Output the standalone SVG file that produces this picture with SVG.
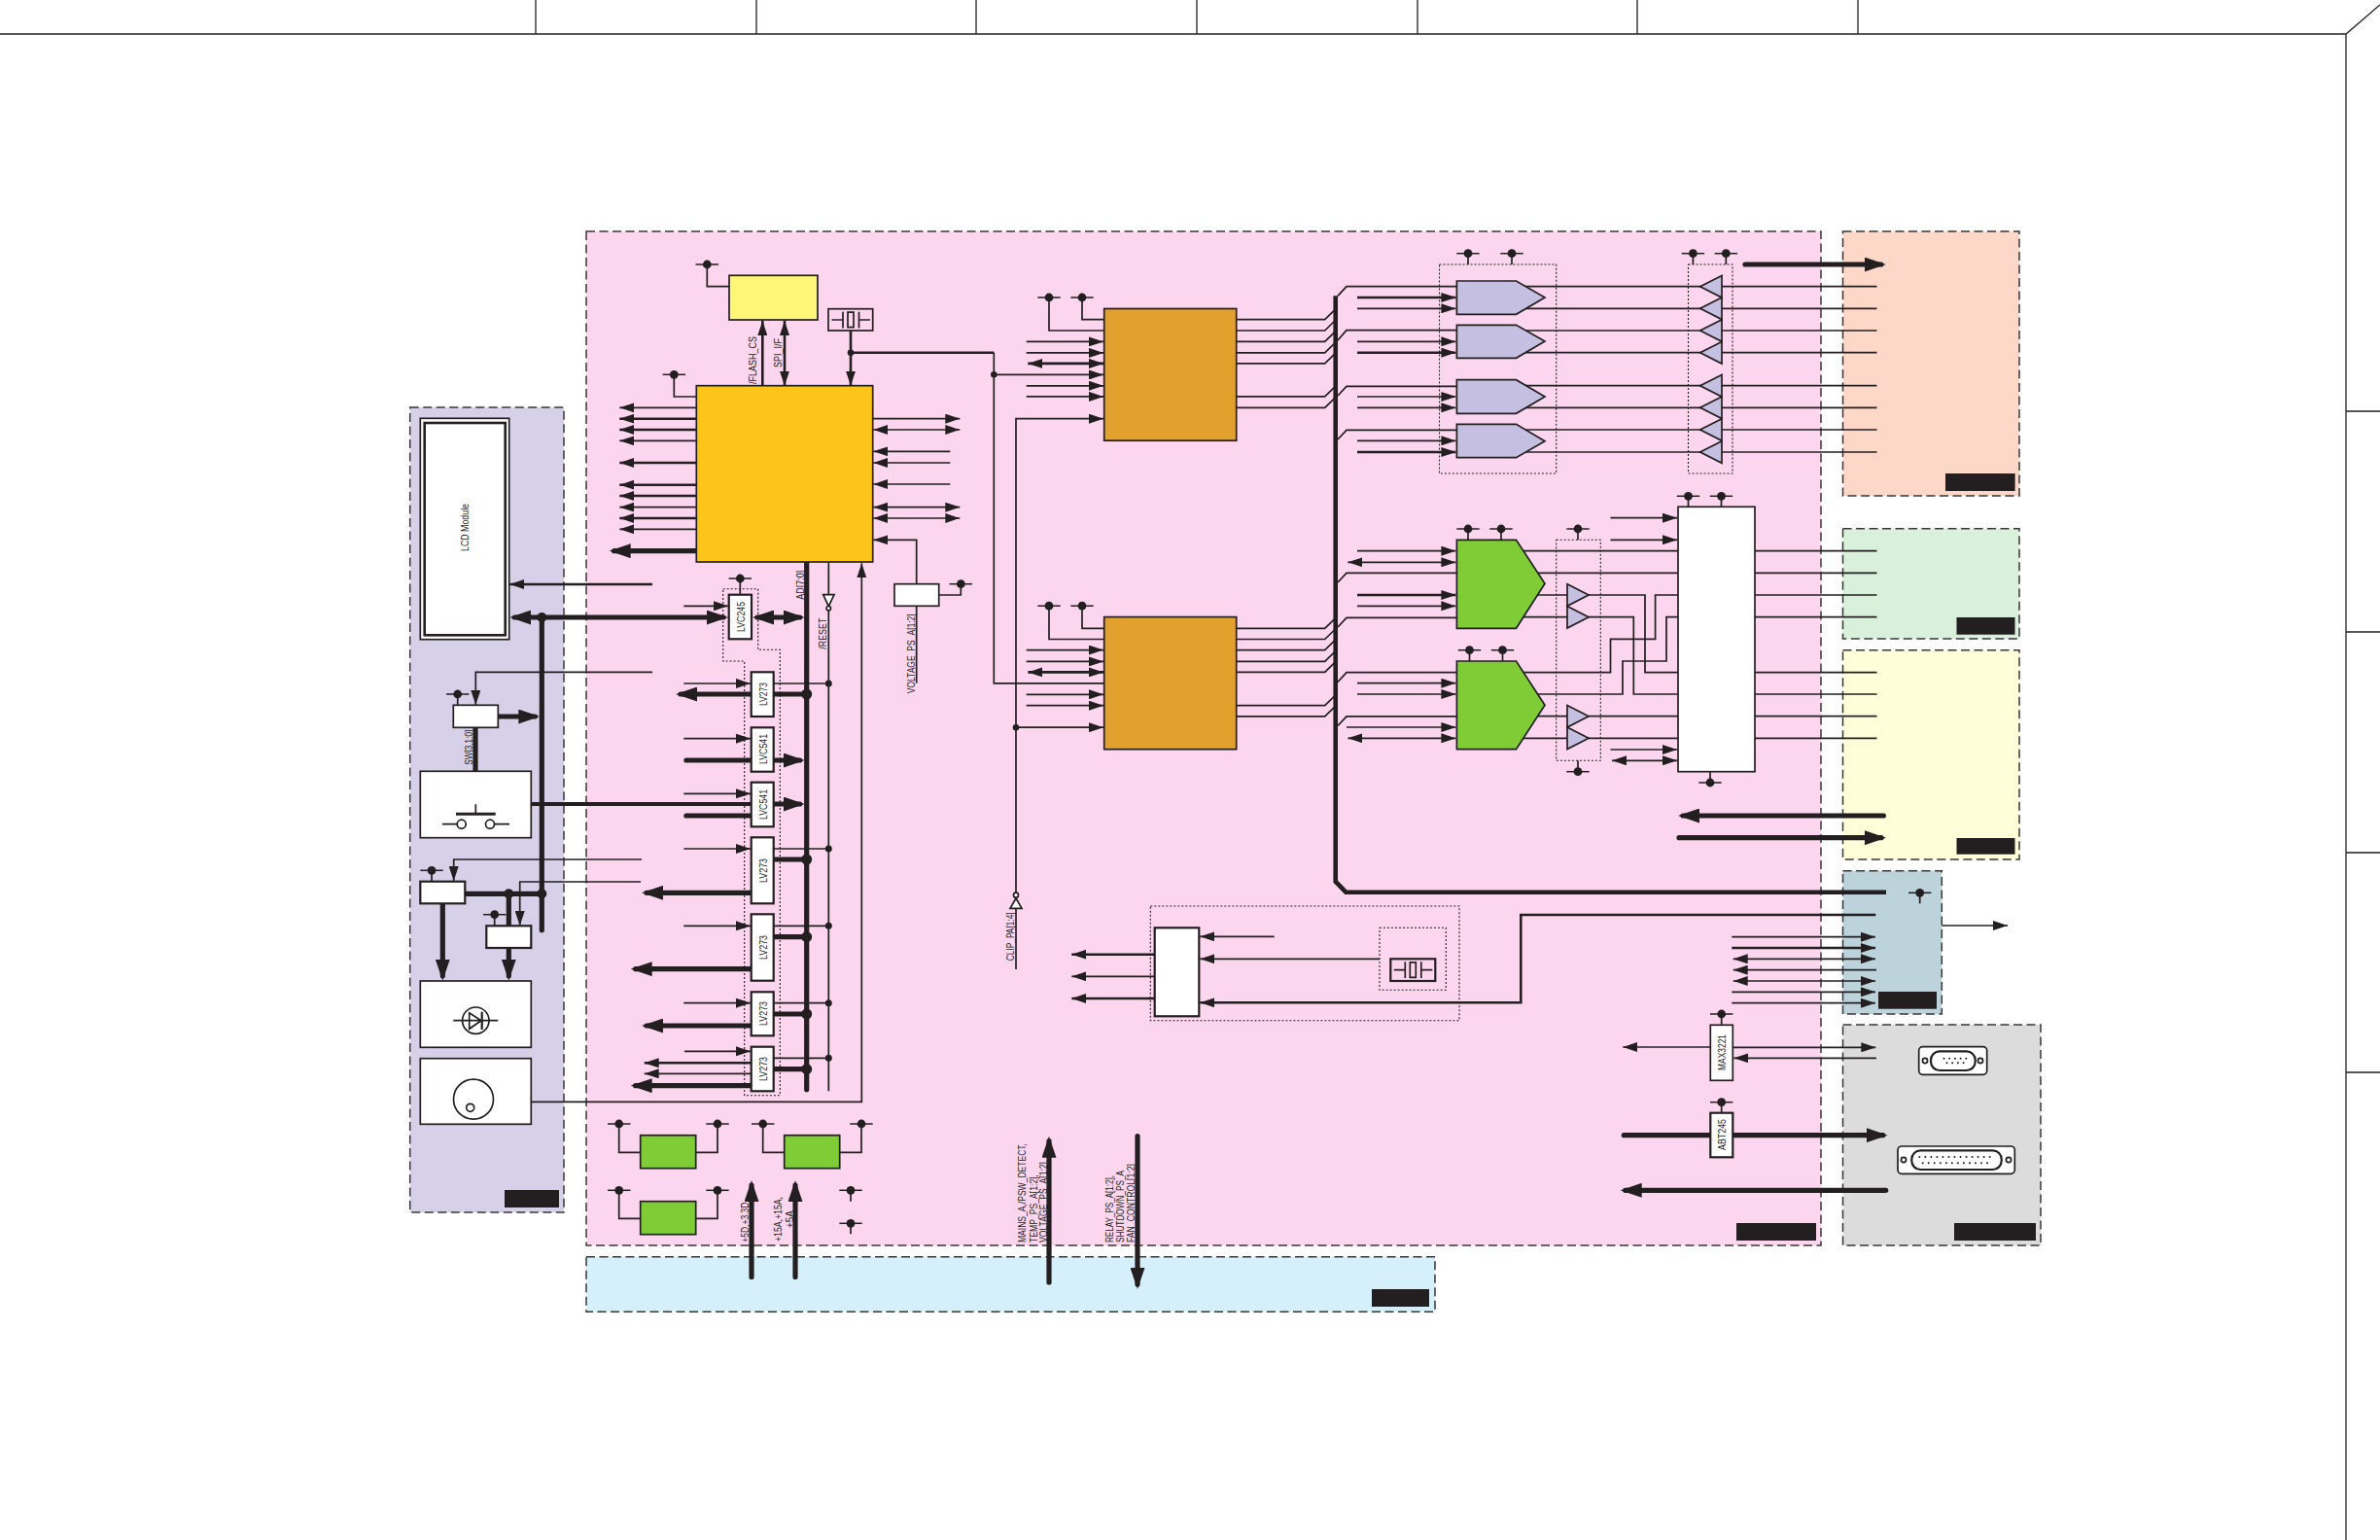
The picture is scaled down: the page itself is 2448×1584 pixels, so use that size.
<svg xmlns="http://www.w3.org/2000/svg" width="2448" height="1584" viewBox="0 0 2448 1584">
<style>
.pn{stroke:#3a3637;stroke-width:1.5;stroke-dasharray:9 4.5}
.tag{fill:#231f20}
.c path,.f{fill:none;stroke:#231f20;stroke-width:1.7}
.c path.t{stroke-width:5.2;stroke-linecap:round}
.c path.m{stroke-width:2.6}
.d{fill:none;stroke:#231f20;stroke-width:1.1;stroke-dasharray:2 2}
.n{stroke:#231f20;stroke-width:1.7}
.b{stroke:#231f20;stroke-width:2.2}
.wh{fill:#fff}
.or{fill:#e2a02d}
.gr{fill:#7fcc36}
.pu{fill:#c5bfe2}
.dot{fill:#231f20}
.l{font-family:"Liberation Sans",Arial,sans-serif;font-size:11px;fill:#231f20}
.ae{marker-end:url(#a)}
.as{marker-start:url(#a)}
.be{marker-end:url(#h)}
.bs{marker-start:url(#h)}
</style>
<defs>
<marker id="a" markerUnits="userSpaceOnUse" viewBox="0 0 15 10" refX="15" refY="5" markerWidth="15" markerHeight="10" orient="auto-start-reverse"><path d="M0 0L15 5L0 10Z" fill="#231f20"/></marker>
<marker id="h" markerUnits="userSpaceOnUse" viewBox="0 0 22 15" refX="17" refY="7.5" markerWidth="22" markerHeight="15" orient="auto-start-reverse"><path d="M0 0L22 7.5L0 15Z" fill="#231f20"/></marker>
<g id="p"><circle r="4.4" fill="#231f20"/><path d="M-11.7 0H11.7" fill="none" stroke="#231f20" stroke-width="1.5"/></g>
<g id="x"><path d="M0 11.3H11.5M11.5 3V19.7M16.5 3.5H22.5V19H16.5ZM28 3V19.7M28 11.3H39.5" fill="none" stroke="#231f20" stroke-width="1.7"/></g>
</defs>
<g id="sheet-frame" fill="none" stroke="#231f20" stroke-width="1.3">
<path d="M0 35H2413L2448 5M2413 35V1584M2413 423H2448M2413 650H2448M2413 877H2448M2413 1103H2448M551 0V35M778 0V35M1004 0V35M1231 0V35M1458 0V35M1684 0V35M1911 0V35"/>
</g>
<g id="panels">
<rect class="pn" x="603" y="238" width="1270" height="1043" fill="#fcd6ee"/>
<rect class="pn" x="421.7" y="419" width="158.3" height="828" fill="#d7d0e9"/>
<rect class="pn" x="603" y="1292.7" width="873" height="56.5" fill="#d6f0fb"/>
<rect class="pn" x="1895.5" y="238" width="181.5" height="272" fill="#fdd8c8"/>
<rect class="pn" x="1895.5" y="543.7" width="181.5" height="113.3" fill="#d9f0da"/>
<rect class="pn" x="1895.5" y="668.7" width="181.5" height="215.3" fill="#feffd8"/>
<rect class="pn" x="1895.5" y="895.7" width="101.8" height="147.3" fill="#bcd3dc"/>
<rect class="pn" x="1895.5" y="1054" width="203.5" height="227" fill="#dcdcdc"/>
<rect class="tag" x="2001" y="487" width="71.6" height="18"/>
<rect class="tag" x="2012.5" y="635" width="60" height="17.7"/>
<rect class="tag" x="2012.5" y="862" width="60" height="16.7"/>
<rect class="tag" x="1932" y="1020" width="60" height="17.7"/>
<rect class="tag" x="2010" y="1258" width="84" height="18"/>
<rect class="tag" x="1786" y="1258" width="82" height="18"/>
<rect class="tag" x="519" y="1224" width="56" height="18"/>
<rect class="tag" x="1411" y="1326" width="59" height="18"/>
</g>
<g id="dotted-outlines">
<path class="d" d="M743.7 605.7H779.7V668.3H802.3V1126.7H765.7V680H743.7Z"/>
<rect class="d" x="1480.5" y="272" width="120.2" height="215"/>
<rect class="d" x="1736.5" y="272" width="45.5" height="215"/>
<rect class="d" x="1600.7" y="555.3" width="45.6" height="227"/>
<rect class="d" x="1183.3" y="932" width="317.7" height="117.7"/>
<rect class="d" x="1419" y="954.3" width="68.3" height="64"/>
</g>
<g id="connectors" class="c">
<path class="ae" d="M716 419.3H637.3"/><path class="ae m" d="M716 430.7H637.3"/><path class="ae m" d="M716 442H637.3"/><path class="ae" d="M716 453.3H637.3"/>
<path class="ae m" d="M716 476H637.3"/><path class="ae m" d="M716 498.7H637.3"/><path class="ae m" d="M716 510H637.3"/><path class="ae" d="M716 521.7H637.3"/><path class="ae m" d="M716 533H637.3"/><path class="ae" d="M716 544.3H637.3"/>
<path class="t be" d="M716 566.7H631.7"/>
<path d="M727.3 272V294.7H750M693.3 385.3V408H716"/>
<path class="ae m" d="M784.3 396.7V330"/>
<path class="ae as m" d="M807 396.7V330"/>
<path class="m ae" d="M875 340V396.7"/>
<path class="m" d="M875 362.7H1022.3"/>
<path d="M1022.3 362.7V702.9H1135"/>
<path class="ae" d="M1022.3 385.4H1135"/>
<path class="ae" d="M897.7 430.7H987.3"/><path class="ae as" d="M898.3 442H987.3"/>
<path class="as" d="M898.3 464.3H977.3"/><path class="as" d="M898.3 476H977.3"/><path class="as" d="M898.3 498H977.3"/>
<path class="ae as" d="M898.3 521.7H987.3"/><path class="ae as" d="M898.3 533H987.3"/>
<path class="as" d="M898.3 555.3H942.7V600.7"/>
<path d="M942.7 623.3V702.7M965.7 612H988.3V600.7"/>
<path d="M1079 306V340H1135.7M1113 306V328.6H1135.7M1079 623.2V657.5H1135.7M1113 623.2V646.4H1135.7"/>
<path class="ae" d="M1055.7 351.4H1135"/><path class="ae" d="M1055.7 362.9H1135"/><path class="ae as m" d="M1057.3 373.9H1135"/><path class="ae" d="M1055.7 396.8H1135"/><path class="ae" d="M1055.7 407.9H1135"/>
<path class="ae" d="M1045 997V430.7H1135"/>
<path class="ae" d="M1055.7 668.6H1135"/><path class="ae" d="M1055.7 680.4H1135"/><path class="ae as m" d="M1057.3 691.4H1135"/><path class="ae" d="M1055.7 714.3H1135"/><path class="ae" d="M1055.7 725.7H1135"/>
<path class="ae" d="M1045 748.2H1135"/>
<path d="M1271.7 328.6H1362.7L1373 318.6M1271.7 340H1362.7L1373 330M1271.7 351.4H1362.7L1373 341.4M1271.7 362.9H1362.7L1373 352.9M1271.7 373.9H1362.7L1373 363.9M1271.7 407.9H1362.7L1373 397.9M1271.7 419.3H1362.7L1373 409.3"/>
<path d="M1271.7 646.4H1362.7L1373 636.4M1271.7 657.5H1362.7L1373 647.5M1271.7 668.6H1362.7L1373 658.6M1271.7 680.4H1362.7L1373 670.4M1271.7 691.4H1362.7L1373 681.4M1271.7 725.7H1362.7L1373 715.7M1271.7 736.8H1362.7L1373 726.8"/>
<path class="m" style="stroke-width:4.6" stroke-linejoin="miter" d="M1373.7 304.3V906.7L1384.3 917.7H1940"/>
<path d="M1376 304.3L1385 294.7H1498M1376 350L1385 339.7H1498M1376 407L1385 397.3H1498M1376 452L1385 442.3H1498M1376 599L1385 589.3H1498M1376 645L1385 635.4H1498M1376 701.5L1385 691.6H1498M1376 746.5L1385 736.8H1498"/>
<path class="ae m" d="M1396 306H1497.4"/><path class="ae" d="M1396 317.3H1497.4"/><path class="ae" d="M1396 351.3H1497.4"/><path class="ae m" d="M1396 362.7H1497.4"/><path class="ae" d="M1396 408H1497.4"/><path class="ae" d="M1396 419.3H1497.4"/><path class="ae" d="M1396 453.3H1497.4"/><path class="ae m" d="M1396 465H1497.4"/>
<path d="M1555 294.7H1930.5M1555 317.3H1930.5M1555 340H1930.5M1555 362.7H1930.5M1555 396.7H1930.5M1555 419.3H1930.5M1555 442H1930.5M1555 465H1930.5"/>
<path d="M1510 260.7V272M1555 260.7V272M1741.4 260.7V272M1775.3 260.7V272"/>
<path class="t be" d="M1795 272H1934.8"/>
<path class="ae" d="M1396 566.7H1497.4"/><path class="ae as" d="M1386.4 578.3H1497.4"/><path class="ae m" d="M1396 612H1497.4"/><path class="ae" d="M1396 623.3H1497.4"/>
<path class="ae" d="M1396 702.7H1497.4"/><path class="ae" d="M1396 714H1497.4"/><path class="ae" d="M1385 748H1497.4"/><path class="ae as" d="M1386.4 759.3H1497.4"/>
<path d="M1510 544V555.3M1544 544V555.3M1511.5 668.7V680M1545.5 668.7V680M1623 544V555.3M1623 782.3V793.7"/>
<path d="M1555 566.7H1726M1555 589.3H1726M1560 612H1612M1560 634.7H1612"/>
<path d="M1634 612H1692V691.7H1726M1634 634.7H1680.3V714H1726"/>
<path d="M1555 691.7H1656.5V657.3H1702.6V612H1726M1555 714H1669V680H1714V634.7H1726"/>
<path d="M1560 736.7H1612M1634 736.7H1726M1560 759.3H1612M1634 759.3H1726"/>
<path d="M1736.5 510.3V521.3M1770.5 510.3V521.3M1759 793.7V805"/>
<path class="ae" d="M1656.5 532.7H1725"/><path class="ae" d="M1656.5 555.3H1725"/><path class="ae" d="M1656.5 771H1725"/><path class="ae as" d="M1658 782.3H1725"/>
<path d="M1805 566.7H1930.5M1805 589.3H1930.5M1805 612H1930.5M1805 634.7H1930.5M1805 691.7H1930.5M1805 714H1930.5M1805 736.7H1930.5M1805 759.3H1930.5"/>
<path class="t be" d="M1937.4 839H1731"/>
<path class="t be" d="M1727 861.7H1935"/>
<path d="M1974.7 918.3V929.3"/>
<path class="m ae" d="M1929.3 941H1564.3V1031.3H1234.3"/>
<path class="ae" d="M1781.3 963.7H1929"/><path class="ae m" d="M1781.3 975H1929"/><path class="ae as" d="M1782.7 986.3H1929"/><path class="as" d="M1782.7 997.7H1930"/><path class="ae as" d="M1782.7 1009H1929"/><path class="ae" d="M1781.3 1020.3H1929"/><path class="ae" d="M1781.3 1031.7H1929"/>
<path class="ae" d="M1997.3 952H2065"/>
<path d="M1770.7 1043V1054.3M1770.7 1133.7V1144.7"/>
<path class="ae" d="M1759.3 1077H1669.3"/><path class="ae" d="M1782.3 1077.3H1929.3"/><path class="ae" d="M1930 1088.3H1783.3"/>
<path class="t" d="M1670.3 1167.7H1759.3"/><path class="t be" d="M1782.3 1167.7H1936.7"/>
<path class="t be" d="M1939.7 1224.3H1671.7"/>
<path class="ae m" d="M1187.7 981.7H1102.3"/><path class="ae" d="M1187.7 1004.3H1102.3"/><path class="ae m" d="M1187.7 1027H1102.3"/>
<path class="ae" d="M1310.7 963.3H1234.3"/><path class="ae" d="M1419 986.3H1234.3"/>
<path class="t be" d="M1079 1319V1173.7"/><path class="t be" d="M1170 1168.6V1321"/>
<path class="t be" d="M773 1313.4V1219"/><path class="t be" d="M818 1313.4V1219"/>
<path d="M636.7 1156V1185.3H658.7M738 1156V1185.3H715.7M636.7 1224.3V1253.3H658.7M738 1224.3V1253.3H715.7M784.7 1156V1185.3H806.7M886 1156V1185.3H863.7M875 1224.3V1235.7M875 1258.3V1269.3"/>
<path class="ae m" d="M671 601H524.3"/>
<path class="t be bs" d="M529.3 635H744"/>
<path class="t" d="M557.3 635V956.7"/>
<path class="ae" d="M671 691.3H489.3V725"/>
<path d="M470.7 714V725.3M444 895.3V906.7M508.7 940.7V952.3"/>
<path class="t be" d="M512.3 737H550.3"/>
<path class="t" d="M489 748.3V793.3"/>
<path class="ae" d="M660 884H466.7V906"/>
<path class="ae" d="M659 907H534.7V952"/>
<path class="t" d="M478.3 919.3H557.3M523.3 919.3V952.3"/>
<path class="t be" d="M455.3 929.3V1003.7"/><path class="t be" d="M523.3 975V1003.7"/>
<path class="ae" d="M546.7 1133.3H886.3V579.3"/>
<path class="t" d="M829.7 576.7V1120.7"/>
<path d="M852.3 578V611.7M852.3 628V1122.3"/>
<path class="t be bs" d="M779 635H822.7"/>
<path class="ae" d="M703.3 623.3H749"/>
<path d="M761.3 595V611.7"/>
<path class="ae" d="M703.3 703H772"/><path d="M795.7 703H852.3"/><path class="t" d="M795.7 714H829.7"/><path class="t be" d="M772.7 714H700"/>
<path class="ae" d="M703.3 759.7H772"/><path class="t" d="M705.9 782H772.7"/><path class="t be" d="M795.7 782H822.7"/>
<path class="ae" d="M703.3 816.3H772"/><path class="t" style="stroke-width:4" d="M546.7 827H772.7"/><path class="t be" d="M795.7 827H822.7"/><path class="t" d="M705.9 839H772.7"/>
<path class="ae" d="M703.3 873H772"/><path d="M795.7 873H852.3"/><path class="t" d="M795.7 884H829.7"/><path class="t be" d="M772.7 918.3H665"/>
<path class="ae" d="M703.3 952.3H772"/><path d="M795.7 952.3H852.3"/><path class="t" d="M795.7 963.7H829.7"/><path class="t be" d="M772.7 996.7H653.7"/>
<path class="ae" d="M703.3 1031.7H772"/><path d="M795.7 1031.7H852.3"/><path class="t" d="M795.7 1043H829.7"/><path class="t be" d="M772.7 1055H665"/>
<path class="ae" d="M704 1081.3H772"/><path d="M795.7 1088.3H852.3"/><path class="t" d="M795.7 1099.7H829.7"/><path class="ae m" d="M772.7 1093.3H662.7"/><path class="ae" d="M772.7 1104.3H662.7"/><path class="t be" d="M772.7 1116.7H653.7"/>
</g>
<g id="junctions" class="dot">
<circle cx="875" cy="362.7" r="3.3"/><circle cx="1022.3" cy="385.3" r="3.3"/><circle cx="1045" cy="748.2" r="3.3"/>
<circle cx="557.3" cy="635" r="5"/><circle cx="523.3" cy="919.3" r="5"/><circle cx="557.3" cy="919.3" r="5"/>
<circle cx="829.7" cy="714" r="5.5"/><circle cx="829.7" cy="884" r="5.5"/><circle cx="829.7" cy="963.7" r="5.5"/><circle cx="829.7" cy="1043" r="5.5"/><circle cx="829.7" cy="1099.7" r="5.5"/>
<circle cx="852.3" cy="703" r="3.5"/><circle cx="852.3" cy="873" r="3.5"/><circle cx="852.3" cy="952.3" r="3.5"/><circle cx="852.3" cy="1031.7" r="3.5"/><circle cx="852.3" cy="1088.3" r="3.5"/>
</g>
<g id="power-pins">
<use href="#p" x="727.3" y="272"/><use href="#p" x="693.3" y="385.3"/><use href="#p" x="1079" y="306"/><use href="#p" x="1113" y="306"/><use href="#p" x="1079" y="623.2"/><use href="#p" x="1113" y="623.2"/>
<use href="#p" x="1510" y="260.7"/><use href="#p" x="1555" y="260.7"/><use href="#p" x="1741.4" y="260.7"/><use href="#p" x="1775.3" y="260.7"/>
<use href="#p" x="1510" y="544"/><use href="#p" x="1544" y="544"/><use href="#p" x="1511.5" y="668.7"/><use href="#p" x="1545.5" y="668.7"/><use href="#p" x="1623" y="544"/><use href="#p" x="1623" y="793.7"/>
<use href="#p" x="1736.5" y="510.3"/><use href="#p" x="1770.5" y="510.3"/><use href="#p" x="1759" y="805"/>
<use href="#p" x="1974.7" y="918.3"/><use href="#p" x="1770.7" y="1043"/><use href="#p" x="1770.7" y="1133.7"/>
<use href="#p" x="761.3" y="595"/><use href="#p" x="470.7" y="714"/><use href="#p" x="444" y="895.3"/><use href="#p" x="508.7" y="940.7"/><use href="#p" x="988.3" y="600.7"/>
<use href="#p" x="636.7" y="1156"/><use href="#p" x="738" y="1156"/><use href="#p" x="636.7" y="1224.3"/><use href="#p" x="738" y="1224.3"/><use href="#p" x="784.7" y="1156"/><use href="#p" x="886" y="1156"/><use href="#p" x="875" y="1224.3"/><use href="#p" x="875" y="1258.3"/>
</g>
<g id="flash"><rect class="n" x="750" y="283.3" width="91" height="45.7" fill="#fff577"/></g>
<g id="cpu"><rect class="n" x="716.3" y="396.7" width="181.4" height="181.3" fill="#fdc41a"/></g>
<g id="crystal-cpu"><rect class="n" x="852" y="317.7" width="45.7" height="22.3" fill="none"/><use href="#x" x="855.5" y="317.7"/></g>
<g id="voltage-adc"><rect class="n wh" x="920" y="600.7" width="45.7" height="22.6"/></g>
<g id="dsp-1"><rect class="n or" x="1135.7" y="317.5" width="136" height="135.7"/></g>
<g id="dsp-2"><rect class="n or" x="1135.7" y="634.6" width="136" height="136.1"/></g>
<g id="dac-1"><path class="n pu" d="M1498.4 289H1559.5L1589 306L1559.5 323.3H1498.4Z"/></g>
<g id="dac-2"><path class="n pu" d="M1498.4 334.3H1559.5L1589 351L1559.5 368.3H1498.4Z"/></g>
<g id="dac-3"><path class="n pu" d="M1498.4 390.7H1559.5L1589 408L1559.5 425.3H1498.4Z"/></g>
<g id="dac-4"><path class="n pu" d="M1498.4 436.3H1559.5L1589 453.7L1559.5 470.7H1498.4Z"/></g>
<g id="buffers-out" class="n pu">
<path d="M1771 283.4L1748.7 294.7L1771 306Z"/><path d="M1771 306L1748.7 317.3L1771 328.6Z"/><path d="M1771 328.7L1748.7 340L1771 351.3Z"/><path d="M1771 351.4L1748.7 362.7L1771 374Z"/>
<path d="M1771 385.4L1748.7 396.7L1771 408Z"/><path d="M1771 408L1748.7 419.3L1771 430.6Z"/><path d="M1771 430.7L1748.7 442L1771 453.3Z"/><path d="M1771 453.7L1748.7 465L1771 476.3Z"/>
</g>
<g id="adc-1"><path class="n gr" d="M1498.4 555.3H1559.5L1589 600.3L1559.5 646.3H1498.4Z"/></g>
<g id="adc-2"><path class="n gr" d="M1498.4 680H1559.5L1589 725.3L1559.5 770.7H1498.4Z"/></g>
<g id="buffers-in" class="n pu">
<path d="M1612 600.7L1634 612L1612 623.3Z"/><path d="M1612 623.4L1634 634.7L1612 646Z"/><path d="M1612 725.4L1634 736.7L1612 748Z"/><path d="M1612 748L1634 759.3L1612 770.6Z"/>
</g>
<g id="mux"><rect class="n wh" x="1726" y="521.3" width="79" height="272.4"/></g>
<g id="clock-gen"><rect class="b wh" x="1187.7" y="954.3" width="45.6" height="91"/></g>
<g id="crystal-clock"><rect class="b" x="1430.3" y="986.3" width="46" height="22.7" fill="none"/><use href="#x" x="1433.8" y="986.3"/></g>
<g id="reg-a"><rect class="n gr" x="658.7" y="1167.7" width="57" height="34"/></g>
<g id="reg-b"><rect class="n gr" x="658.7" y="1235.7" width="57" height="34"/></g>
<g id="reg-c"><rect class="n gr" x="806.7" y="1167.7" width="57" height="34"/></g>
<g id="lcd"><rect class="n wh" x="432.3" y="430.3" width="91.4" height="227.4"/><rect x="436.7" y="435" width="83" height="218.3" fill="#fff" stroke="#231f20" stroke-width="2.6"/>
<text class="l" transform="translate(481.5,567) rotate(-90)" textLength="49" lengthAdjust="spacingAndGlyphs">LCD Module</text></g>
<g id="sw-reg"><rect class="n wh" x="466.3" y="725.3" width="46" height="23"/></g>
<g id="switch-box"><rect class="n wh" x="432.3" y="793.3" width="114" height="68.4"/>
<path class="f" d="M455 847.7H470.3M508.7 847.7H524M489.3 827.3V837.3"/><path class="f" style="stroke-width:3" d="M469 837.3H509.7"/><circle class="f" cx="474.7" cy="847.7" r="4.5"/><circle class="f" cx="504" cy="847.7" r="4.5"/></g>
<g id="led-reg-a"><rect class="b wh" x="432.3" y="906.7" width="46" height="22.6"/></g>
<g id="led-reg-b"><rect class="b wh" x="500.3" y="952.3" width="46" height="22.7"/></g>
<g id="led-box"><rect class="n wh" x="432.3" y="1009" width="114" height="68.3"/>
<circle class="f" cx="489.3" cy="1049.7" r="13.7"/><path class="f" d="M466.3 1049.7H512.3M482.7 1041.7V1058.3L495 1049.7Z"/><path class="f" style="stroke-width:2.2" d="M495.7 1040.7V1059"/></g>
<g id="knob-box"><rect class="n wh" x="432.3" y="1088.7" width="114" height="67.6"/><circle class="f" cx="487" cy="1130.7" r="20.5"/><circle class="f" cx="483.7" cy="1139.3" r="4"/></g>
<g id="lvc245"><rect class="b wh" x="749.7" y="611.7" width="23.3" height="45.6"/><text class="l" transform="translate(765.5,650) rotate(-90)" textLength="31" lengthAdjust="spacingAndGlyphs">LVC245</text></g>
<g id="lv273-1"><rect class="b wh" x="772.7" y="691.3" width="23" height="45.7"/><text class="l" transform="translate(788.5,726) rotate(-90)" textLength="24" lengthAdjust="spacingAndGlyphs">LV273</text></g>
<g id="lvc541-1"><rect class="b wh" x="772.7" y="748.3" width="23" height="45.4"/><text class="l" transform="translate(788.5,786) rotate(-90)" textLength="31" lengthAdjust="spacingAndGlyphs">LVC541</text></g>
<g id="lvc541-2"><rect class="b wh" x="772.7" y="804.7" width="23" height="45.6"/><text class="l" transform="translate(788.5,843) rotate(-90)" textLength="31" lengthAdjust="spacingAndGlyphs">LVC541</text></g>
<g id="lv273-2"><rect class="b wh" x="772.7" y="861.3" width="23" height="68"/><text class="l" transform="translate(788.5,908) rotate(-90)" textLength="25" lengthAdjust="spacingAndGlyphs">LV273</text></g>
<g id="lv273-3"><rect class="b wh" x="772.7" y="940.3" width="23" height="68.4"/><text class="l" transform="translate(788.5,987) rotate(-90)" textLength="25" lengthAdjust="spacingAndGlyphs">LV273</text></g>
<g id="lv273-4"><rect class="b wh" x="772.7" y="1020.3" width="23" height="45"/><text class="l" transform="translate(788.5,1055) rotate(-90)" textLength="25" lengthAdjust="spacingAndGlyphs">LV273</text></g>
<g id="lv273-5"><rect class="b wh" x="772.7" y="1076.7" width="23" height="45.6"/><text class="l" transform="translate(788.5,1112) rotate(-90)" textLength="25" lengthAdjust="spacingAndGlyphs">LV273</text></g>
<g id="reset-inv"><path class="n wh" d="M846.7 611.7H858L852.3 623.7Z"/><circle class="n wh" cx="852.3" cy="625.7" r="2.2"/></g>
<g id="clip-inv"><path class="n wh" d="M1039 934.3H1051L1045 924Z"/><circle class="n wh" cx="1045" cy="920.7" r="2.5"/></g>
<g id="max3221"><rect class="n wh" x="1759.3" y="1054.3" width="23" height="57"/><text class="l" transform="translate(1775,1101) rotate(-90)" textLength="37" lengthAdjust="spacingAndGlyphs">MAX3221</text></g>
<g id="abt245"><rect class="b wh" x="1759.3" y="1144.7" width="23" height="45.6"/><text class="l" transform="translate(1775,1183) rotate(-90)" textLength="32" lengthAdjust="spacingAndGlyphs">ABT245</text></g>
<g id="d9"><rect class="n wh" x="1973.7" y="1076.7" width="70" height="28.6" rx="4"/><rect x="1986" y="1081.3" width="45.7" height="19.7" rx="9" fill="#fff" stroke="#231f20" stroke-width="2.2"/>
<circle class="f" cx="1980" cy="1091" r="2.6"/><circle class="f" cx="2037" cy="1091" r="2.6"/>
<path fill="none" stroke="#231f20" stroke-width="2" stroke-linecap="round" stroke-dasharray="0 5.7" d="M1999.5 1088.7H2023M2002.5 1093.3H2021"/></g>
<g id="d25"><rect class="n wh" x="1952" y="1179" width="120.3" height="28.3" rx="4"/><rect x="1966.3" y="1183.3" width="92.4" height="19.7" rx="9" fill="#fff" stroke="#231f20" stroke-width="2.2"/>
<circle class="f" cx="1958" cy="1193" r="2.6"/><circle class="f" cx="2066" cy="1193" r="2.6"/>
<path fill="none" stroke="#231f20" stroke-width="2" stroke-linecap="round" stroke-dasharray="0 6.03" d="M1974.3 1190H2047M1977.7 1196.3H2048"/></g>
<g id="labels">
<text class="l" transform="translate(778,395) rotate(-90)" textLength="49" lengthAdjust="spacingAndGlyphs">/FLASH_CS</text>
<text class="l" transform="translate(804,378) rotate(-90)" textLength="30" lengthAdjust="spacingAndGlyphs">SPI_I/F</text>
<text class="l" transform="translate(826.7,616.7) rotate(-90)" textLength="30" lengthAdjust="spacingAndGlyphs">AD[7:0]</text>
<text class="l" transform="translate(849.5,667.7) rotate(-90)" textLength="32" lengthAdjust="spacingAndGlyphs">/RESET</text>
<text class="l" transform="translate(940.7,713.3) rotate(-90)" textLength="82" lengthAdjust="spacingAndGlyphs">VOLTAGE_PS_A[1:2]</text>
<text class="l" transform="translate(486,786.7) rotate(-90)" textLength="36" lengthAdjust="spacingAndGlyphs">SW[3,1:0]</text>
<text class="l" transform="translate(1043,988.3) rotate(-90)" textLength="50" lengthAdjust="spacingAndGlyphs">CLIP_PA[1:4]</text>
<text class="l" transform="translate(770,1277.7) rotate(-90)" textLength="41" lengthAdjust="spacingAndGlyphs">+5D,+3.3D</text>
<text class="l" transform="translate(804,1277) rotate(-90)" textLength="46" lengthAdjust="spacingAndGlyphs">+15A,+15A,</text>
<text class="l" transform="translate(816,1263) rotate(-90)" textLength="18" lengthAdjust="spacingAndGlyphs">+5A</text>
<text class="l" transform="translate(1055,1278) rotate(-90)" textLength="102" lengthAdjust="spacingAndGlyphs">MAINS_A,/PSW_DETECT,</text>
<text class="l" transform="translate(1066.5,1278) rotate(-90)" textLength="70" lengthAdjust="spacingAndGlyphs">TEMP_PS_A[1:2],</text>
<text class="l" transform="translate(1076.8,1278) rotate(-90)" textLength="83" lengthAdjust="spacingAndGlyphs">VOLTAGE_PS_A[1:2]</text>
<text class="l" transform="translate(1145,1278) rotate(-90)" textLength="69" lengthAdjust="spacingAndGlyphs">RELAY_PS_A[1:2],</text>
<text class="l" transform="translate(1155.6,1278) rotate(-90)" textLength="74" lengthAdjust="spacingAndGlyphs">SHUTDOWN_PS_A</text>
<text class="l" transform="translate(1167,1278) rotate(-90)" textLength="81" lengthAdjust="spacingAndGlyphs">FAN_CONTROL[1:2]</text>
</g>
</svg>
